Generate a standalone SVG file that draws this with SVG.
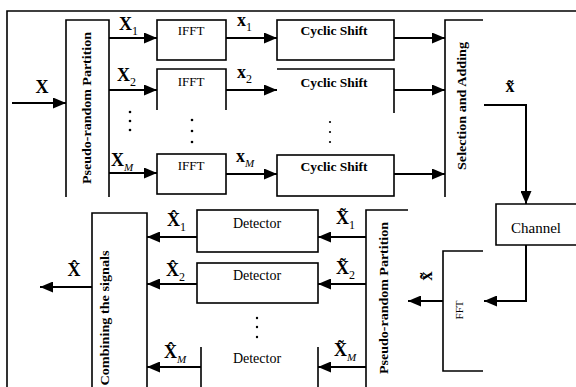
<svg xmlns="http://www.w3.org/2000/svg" width="576" height="387" viewBox="0 0 576 387">
<style>
.ln{fill:none;stroke:#000;stroke-width:1.6}
.bx{fill:#fff;stroke:#000;stroke-width:1.6}
.ar{fill:none;stroke:#000;stroke-width:2;marker-end:url(#ah)}
.t{font-family:"Liberation Serif","Times New Roman",serif;fill:#000}
.b{font-weight:bold}
.lab{font-family:"Liberation Serif","Times New Roman",serif;font-weight:bold;fill:#000;font-size:18px}
.sub{font-size:12px;font-weight:normal}
.subi{font-size:11px;font-weight:normal;font-style:italic}
.dot{fill:#000}
</style>
<defs>
<marker id="ah" markerUnits="userSpaceOnUse" markerWidth="13" markerHeight="11" refX="13" refY="5.5" orient="auto">
<path d="M0,0 L13,5.5 L0,11 z" fill="#000"/>
</marker>
</defs>
<rect width="576" height="387" fill="#fff"/>
<path class="ln" d="M7,387 V11 H576" stroke-width="2"/>

<g id="partition-tx">
<path class="ln" d="M66,197 V20 H109 V197"/>
<text class="t b" font-size="13" transform="translate(88,108) rotate(-90)" text-anchor="middle" dominant-baseline="middle" textLength="152" lengthAdjust="spacingAndGlyphs">Pseudo-random Partition</text>
</g>
<g id="ifft1"><rect class="bx" x="157" y="20" width="69" height="40"/><text class="t" font-size="13" x="191" y="35" text-anchor="middle">IFFT</text></g>
<g id="ifft2"><path class="ln" d="M157,110 V69 H226 V110"/><text class="t" font-size="13" x="191" y="86" text-anchor="middle">IFFT</text></g>
<g id="ifftM"><rect class="bx" x="157" y="154" width="69" height="40"/><text class="t" font-size="13" x="191" y="170" text-anchor="middle">IFFT</text></g>
<g id="cyc1"><rect class="bx" x="277" y="20" width="117" height="40"/><text class="t b" font-size="13.5" x="334" y="35" text-anchor="middle">Cyclic Shift</text></g>
<g id="cyc2"><path class="ln" d="M277,69 H394 V113"/><text class="t b" font-size="13.5" x="334" y="87" text-anchor="middle">Cyclic Shift</text></g>
<g id="cycM"><rect class="bx" x="277" y="155" width="117" height="41"/><text class="t b" font-size="13.5" x="334" y="171" text-anchor="middle">Cyclic Shift</text></g>
<g id="selection">
<path class="ln" d="M483,20 H445 V197"/>
<text class="t b" font-size="12" transform="translate(463,106) rotate(-90)" text-anchor="middle" dominant-baseline="middle" textLength="128" lengthAdjust="spacingAndGlyphs">Selection and Adding</text>
</g>
<g id="channel"><path class="ln" d="M576,204 H496 V245 H576"/><text class="t" font-size="15" x="536" y="233" text-anchor="middle">Channel</text></g>
<g id="fft">
<path class="ln" d="M483,251 H443 V371 H483"/>
<text class="t" font-size="11" transform="translate(460,310) rotate(-90)" text-anchor="middle" dominant-baseline="middle">FFT</text>
</g>
<g id="partition-rx">
<path class="ln" d="M408,210 H366 V387"/>
<text class="t b" font-size="13" transform="translate(385,298) rotate(-90)" text-anchor="middle" dominant-baseline="middle" textLength="152" lengthAdjust="spacingAndGlyphs">Pseudo-random Partition</text>
</g>
<g id="det1"><rect class="bx" x="197" y="210" width="121" height="42"/><text class="t" font-size="14" x="257" y="228" text-anchor="middle">Detector</text></g>
<g id="det2"><rect class="bx" x="197" y="263" width="121" height="40"/><text class="t" font-size="14" x="257" y="280" text-anchor="middle">Detector</text></g>
<g id="detM"><path class="ln" d="M201,347 V387 M318,347 V387"/><text class="t" font-size="14" x="257" y="363" text-anchor="middle">Detector</text></g>
<g id="combining">
<path class="ln" d="M92,387 V213 H147 V387"/>
<text class="t b" font-size="13" transform="translate(106,318) rotate(-90)" text-anchor="middle" dominant-baseline="middle" textLength="135" lengthAdjust="spacingAndGlyphs">Combining the signals</text>
</g>

<g id="ellipses">
<circle class="dot" cx="130" cy="112" r="1.3"/><circle class="dot" cx="130" cy="121" r="1.3"/><circle class="dot" cx="130" cy="130" r="1.3"/>
<circle class="dot" cx="192" cy="120" r="1.3"/><circle class="dot" cx="192" cy="131" r="1.3"/><circle class="dot" cx="192" cy="142" r="1.3"/>
<circle class="dot" cx="330" cy="122" r="1.1"/><circle class="dot" cx="330" cy="132" r="1.1"/><circle class="dot" cx="330" cy="142" r="1.1"/>
<circle class="dot" cx="257" cy="318" r="1.2"/><circle class="dot" cx="257" cy="327" r="1.2"/><circle class="dot" cx="257" cy="337" r="1.2"/>
</g>

<g id="connectors">
<path class="ar" d="M12,103 H66"/>
<path class="ar" d="M109,38 H157"/>
<path class="ar" d="M109,90 H157"/>
<path class="ar" d="M109,173 H157"/>
<path class="ar" d="M226,38 H277"/>
<path class="ar" d="M226,90 H277"/>
<path class="ar" d="M226,174 H277"/>
<path class="ar" d="M394,38 H445"/>
<path class="ar" d="M394,90 H445"/>
<path class="ar" d="M394,174 H445"/>
<path class="ar" d="M484,105 H526 V204"/>
<path class="ar" d="M526,245 V301 H484"/>
<path class="ar" d="M443,301 H408"/>
<path class="ar" d="M366,237 H318"/>
<path class="ar" d="M366,284 H318"/>
<path class="ar" d="M366,367 H318"/>
<path class="ar" d="M197,237 H147"/>
<path class="ar" d="M197,284 H147"/>
<path class="ar" d="M201,367 H147"/>
<path class="ar" d="M92,287 H40"/>
</g>

<g id="labels">
<text class="lab" font-size="20" x="42" y="93" text-anchor="middle">X</text>
<text class="lab" x="119" y="30">X<tspan class="sub" dy="5">1</tspan></text>
<text class="lab" x="117" y="81">X<tspan class="sub" dy="5">2</tspan></text>
<text class="lab" x="111" y="166">X<tspan class="subi" dy="5">M</tspan></text>
<text class="lab" font-size="15" x="237" y="26">x<tspan class="sub" dy="5">1</tspan></text>
<text class="lab" font-size="15" x="237" y="78">x<tspan class="sub" dy="5">2</tspan></text>
<text class="lab" font-size="15" x="236" y="162">x<tspan class="subi" dy="5">M</tspan></text>
<text class="lab" font-size="14" x="510" y="92" text-anchor="middle">x̃</text>
<text class="lab" font-size="14" transform="translate(428,276) rotate(-90)" text-anchor="middle" dominant-baseline="middle">x̃</text>
<text class="lab" x="336" y="224">X̃<tspan class="sub" dy="5">1</tspan></text>
<text class="lab" x="336" y="274">X̃<tspan class="sub" dy="5">2</tspan></text>
<text class="lab" x="334" y="356">X̃<tspan class="subi" dy="5">M</tspan></text>
<text class="lab" x="167" y="226">X̂<tspan class="sub" dy="5">1</tspan></text>
<text class="lab" x="166" y="276">X̂<tspan class="sub" dy="5">2</tspan></text>
<text class="lab" x="164" y="358">X̂<tspan class="subi" dy="5">M</tspan></text>
<text class="lab" x="74" y="276" text-anchor="middle">X̂</text>
</g>
</svg>
